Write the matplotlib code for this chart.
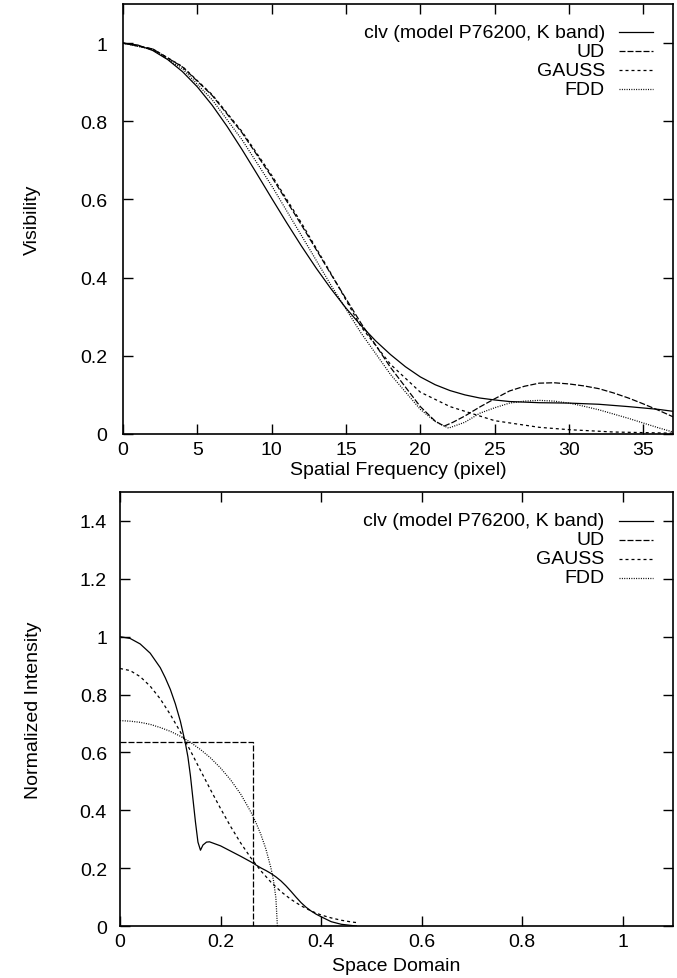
import matplotlib
matplotlib.use('Agg')
import matplotlib.pyplot as plt
from matplotlib.lines import Line2D
from matplotlib.ticker import FuncFormatter, MultipleLocator

plt.rcParams['font.family'] = ['Liberation Sans', 'DejaVu Sans']
plt.rcParams['font.size'] = 14

# ---- top panel: visibility vs spatial frequency ----
u_clv = [0, 1, 2, 3, 4, 5, 6, 7, 8, 9, 10, 11, 12, 13, 14, 15, 16, 17, 18, 19, 20,
         21, 22, 23, 24, 25, 26, 28, 30, 32, 34, 36, 37]
v_clv = [1.0, .995, .981, .958, .927, .888, .841, .787, .728, .666, .603, .541, .481,
         .424, .371, .322, .278, .238, .203, .172, .146, .126, .111, .100, .092, .087,
         .083, .080, .079, .076, .070, .063, .058]

u_ud = [0, 2, 4, 6, 8, 10, 12, 14, 16, 18, 20, 21, 21.6, 22.2, 23, 24, 25, 26, 27, 28,
        29, 30, 31, 32, 33, 34, 35, 36, 37]
v_ud = [1.0, .985, .939, .866, .771, .658, .535, .408, .284, .170, .070, .033, .020,
        .030, .046, .069, .090, .110, .122, .130, .131, .128, .123, .116, .105, .092,
        .077, .061, .044]

u_gauss = [0, 2, 4, 6, 8, 10, 12, 14, 16, 18, 20, 22, 25, 28, 30, 33, 37]
v_gauss = [1.0, .985, .940, .868, .774, .662, .540, .410, .275, .178, .107, .070, .034,
           .017, .011, .005, .002]

u_fdd = [0, 2, 4, 6, 8, 10, 12, 14, 16, 18, 20, 21, 21.9, 23, 24, 25, 26, 27, 28, 29,
         30, 31, 32, 33, 34, 35, 36, 37]
v_fdd = [1.0, .983, .934, .855, .753, .635, .508, .380, .259, .152, .063, .032, .015,
         .030, .053, .067, .079, .084, .086, .084, .079, .071, .062, .051, .040, .028,
         .016, .005]

# ---- bottom panel: normalized intensity vs radius ----
r_clv = [0, .02, .04, .06, .08, .09, .10, .11, .12, .13, .135, .14, .145, .15, .155,
         .160, .165, .172, .178, .20, .22, .24, .26, .28, .29, .30, .31, .32, .33, .34,
         .35, .36, .37, .38, .39, .40, .42, .44, .46, .47]
i_clv = [1.0, .994, .975, .943, .893, .858, .818, .768, .708, .632, .585, .520, .440,
         .360, .290, .262, .280, .290, .291, .277, .259, .241, .222, .201, .192, .182,
         .170, .156, .139, .120, .100, .081, .065, .052, .041, .032, .015, .006, .002, 0]

r_ud = [0, .265, .265]
i_ud = [.635, .635, 0]

r_gauss = [0, .02, .04, .06, .08, .10, .12, .14, .16, .18, .20, .22, .24, .26, .28,
           .30, .32, .34, .36, .38, .40, .42, .44, .46, .47]
i_gauss = [.890, .883, .862, .829, .785, .731, .671, .606, .538, .471, .406, .344,
           .287, .236, .191, .152, .119, .092, .070, .052, .038, .028, .020, .014, .012]

r_fdd = [0, .02, .04, .06, .08, .10, .12, .14, .16, .18, .20, .22, .24, .26, .27, .28,
         .29, .30, .305, .31, .313]
i_fdd = [.710, .708, .704, .697, .686, .673, .656, .635, .610, .581, .546, .505, .456,
         .395, .359, .317, .267, .202, .160, .098, 0]

labels = ['clv (model P76200, K band)', 'UD', 'GAUSS', 'FDD']
styles = ['-', (0, (4.8, 1.6)), (0, (2.4, 2.4)), (0, (0.8, 1.1))]
lw = 0.9

fig = plt.figure(figsize=(6.77, 9.79), dpi=100)
ax1 = fig.add_axes([0.1817, 0.5557, 0.8124, 0.4392])
ax2 = fig.add_axes([0.1773, 0.0531, 0.8168, 0.4433])


def style_axes(ax, xmax, ymax, xstep, ystep, ypad):
    ax.set_xlim(0, xmax)
    ax.set_ylim(0, ymax)
    ax.xaxis.set_major_locator(MultipleLocator(xstep))
    ax.yaxis.set_major_locator(MultipleLocator(ystep))
    fmt = FuncFormatter(lambda v, p: '%g' % round(v, 6))
    ax.xaxis.set_major_formatter(fmt)
    ax.yaxis.set_major_formatter(fmt)
    ax.tick_params(direction='in', length=7, width=1, top=True, right=True)
    ax.tick_params(axis='x', pad=5)
    ax.tick_params(axis='y', pad=ypad)
    for s in ax.spines.values():
        s.set_linewidth(1.2)


def draw_key(ax):
    # gnuplot style key: right aligned text, sample line on the right
    for i, (lab, st) in enumerate(zip(labels, styles)):
        y = 0.934 - i * 0.044
        ax.text(0.876, y, lab, transform=ax.transAxes, ha='right', va='center')
        ax.add_line(Line2D([0.902, 0.964], [y, y], transform=ax.transAxes,
                           color='k', lw=lw, linestyle=st))


# top panel
for x, y, st in zip([u_clv, u_ud, u_gauss, u_fdd], [v_clv, v_ud, v_gauss, v_fdd], styles):
    ax1.plot(x, y, color='k', lw=lw, linestyle=st)
style_axes(ax1, 37, 1.1, 5, 0.2, 11.5)
draw_key(ax1)
ax1.set_xlabel('Spatial Frequency (pixel)', va='center')
ax1.xaxis.set_label_coords(0.5, -0.083)
ax1.set_ylabel('Visibility', va='center')
ax1.yaxis.set_label_coords(-0.164, 0.5)

# bottom panel
for x, y, st in zip([r_clv, r_ud, r_gauss, r_fdd], [i_clv, i_ud, i_gauss, i_fdd], styles):
    ax2.plot(x, y, color='k', lw=lw, linestyle=st)
style_axes(ax2, 1.1, 1.5, 0.2, 0.2, 9.4)
draw_key(ax2)
ax2.set_xlabel('Space Domain', va='center')
ax2.xaxis.set_label_coords(0.5, -0.09)
ax2.set_ylabel('Normalized Intensity', va='center')
ax2.yaxis.set_label_coords(-0.157, 0.5)

fig.savefig('out.png', dpi=100)
